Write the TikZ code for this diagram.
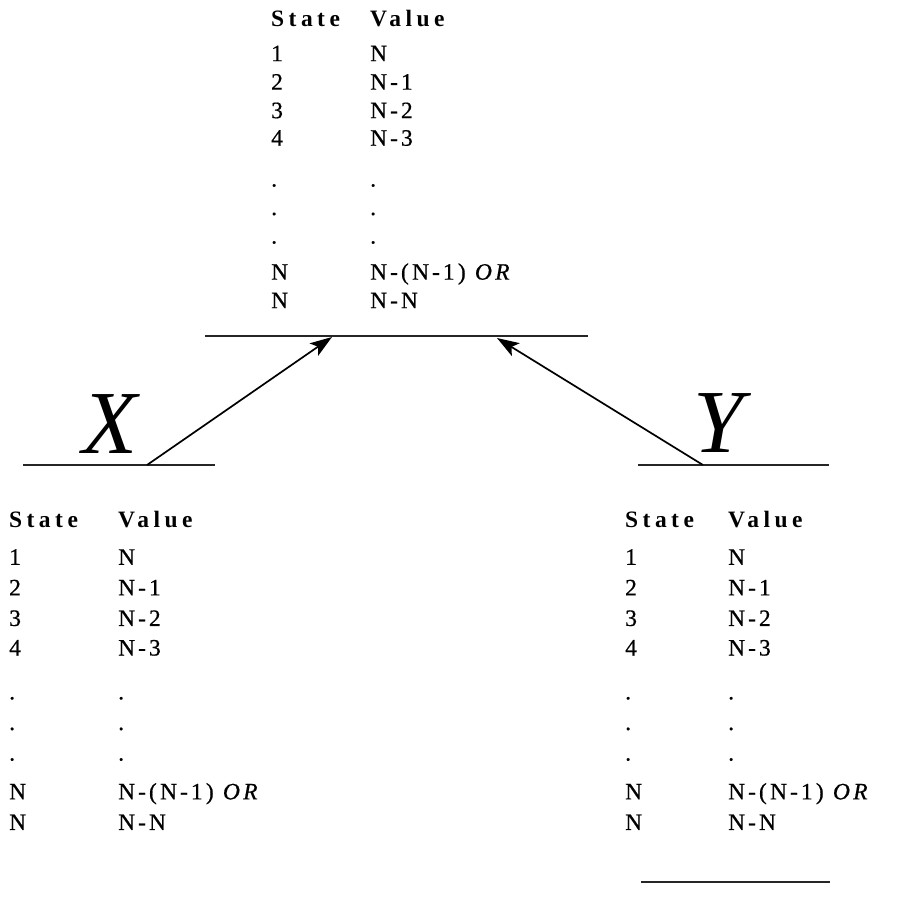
\documentclass[tikz,border=0pt]{standalone}
\usepackage{fontspec}
\setmainfont{Liberation Serif}
\newfontfamily\hdrfam[LetterSpace=19]{Liberation Serif}
\newfontfamily\bodyfam[LetterSpace=14,FakeBold=0.6]{Liberation Serif}
\usetikzlibrary{arrows.meta}
\newcommand\tabfont{\bodyfam\fontsize{23.5}{28}\selectfont}
\newcommand\hdrfont{\hdrfam\bfseries\fontsize{23.5}{28}\selectfont}
\newcommand\bigfont{\fontsize{90}{96}\selectfont\itshape}
\newcommand\hy{\kern3pt-\kern3pt}
\tikzset{
  txt/.style={anchor=base west, inner sep=0pt, font=\tabfont},
  hd/.style={anchor=base west, inner sep=0pt, font=\hdrfont},
  big/.style={anchor=base west, inner sep=0pt, font=\bigfont},
  rule/.style={line width=1.1pt, black!85},
  arr/.style={line width=1.7pt, -{Stealth[length=22pt,width=15pt,inset=5pt]}}
}
% #1 prefix, #2 x of State column, #3 x of Value column, #4 baseline of header, #5 vertical stretch
\newcommand\StTable[5]{%
  \node[hd] (#1sh) at (#2,#4) {State};
  \node[hd] (#1vh) at (#3,#4) {Value};
  \node[txt] (#1s1) at (#2,{#4+#5*37}) {1};
  \node[txt] (#1v1) at (#3,{#4+#5*37}) {N};
  \node[txt] (#1s2) at (#2,{#4+#5*67}) {2};
  \node[txt] (#1v2) at (#3,{#4+#5*67}) {N\hy1};
  \node[txt] (#1s3) at (#2,{#4+#5*97}) {3};
  \node[txt] (#1v3) at (#3,{#4+#5*97}) {N\hy2};
  \node[txt] (#1s4) at (#2,{#4+#5*126}) {4};
  \node[txt] (#1v4) at (#3,{#4+#5*126}) {N\hy3};
  \node[txt] (#1sd1) at (#2,{#4+#5*169}) {.};
  \node[txt] (#1vd1) at (#3,{#4+#5*169}) {.};
  \node[txt] (#1sd2) at (#2,{#4+#5*199}) {.};
  \node[txt] (#1vd2) at (#3,{#4+#5*199}) {.};
  \node[txt] (#1sd3) at (#2,{#4+#5*229}) {.};
  \node[txt] (#1vd3) at (#3,{#4+#5*229}) {.};
  \node[txt] (#1s5) at (#2,{#4+#5*267}) {N};
  \node[txt] (#1v5) at (#3,{#4+#5*267}) {N\hy(N\hy1) \textit{OR}};
  \node[txt] (#1s6) at (#2,{#4+#5*297}) {N};
  \node[txt] (#1v6) at (#3,{#4+#5*297}) {N\hy N};
}
\begin{document}
\begin{tikzpicture}[x=1pt,y=-1pt]
  \useasboundingbox (0,0) rectangle (902,898);
  \fill[white] (0,0) rectangle (902,898);

  % tables
  \StTable{t}{271}{370}{26}{0.95}
  \StTable{l}{9}{118}{527}{1.02}
  \StTable{r}{625}{728}{527}{1.02}

  % horizontal rules
  \coordinate (topL) at (205,336);
  \coordinate (topR) at (588,336);
  \coordinate (xL) at (23,465);
  \coordinate (xR) at (215,465);
  \coordinate (yL) at (638,465);
  \coordinate (yR) at (829,465);
  \coordinate (bL) at (641,882);
  \coordinate (bR) at (830,882);
  \draw[rule] (topL) -- (topR);
  \draw[rule] (xL) -- (xR);
  \draw[rule] (yL) -- (yR);
  \draw[rule] (bL) -- (bR);

  % big letters
  \node[big] (X) at (82,453) {X};
  \node[big] (Y) at (693,452) {Y};

  % arrows
  \coordinate (xs) at (147,465);
  \coordinate (xt) at (332,337);
  \coordinate (ys) at (703,465);
  \coordinate (yt) at (497,338);
  \draw[arr] (xs) -- (xt);
  \draw[arr] (ys) -- (yt);
\end{tikzpicture}
\end{document}
